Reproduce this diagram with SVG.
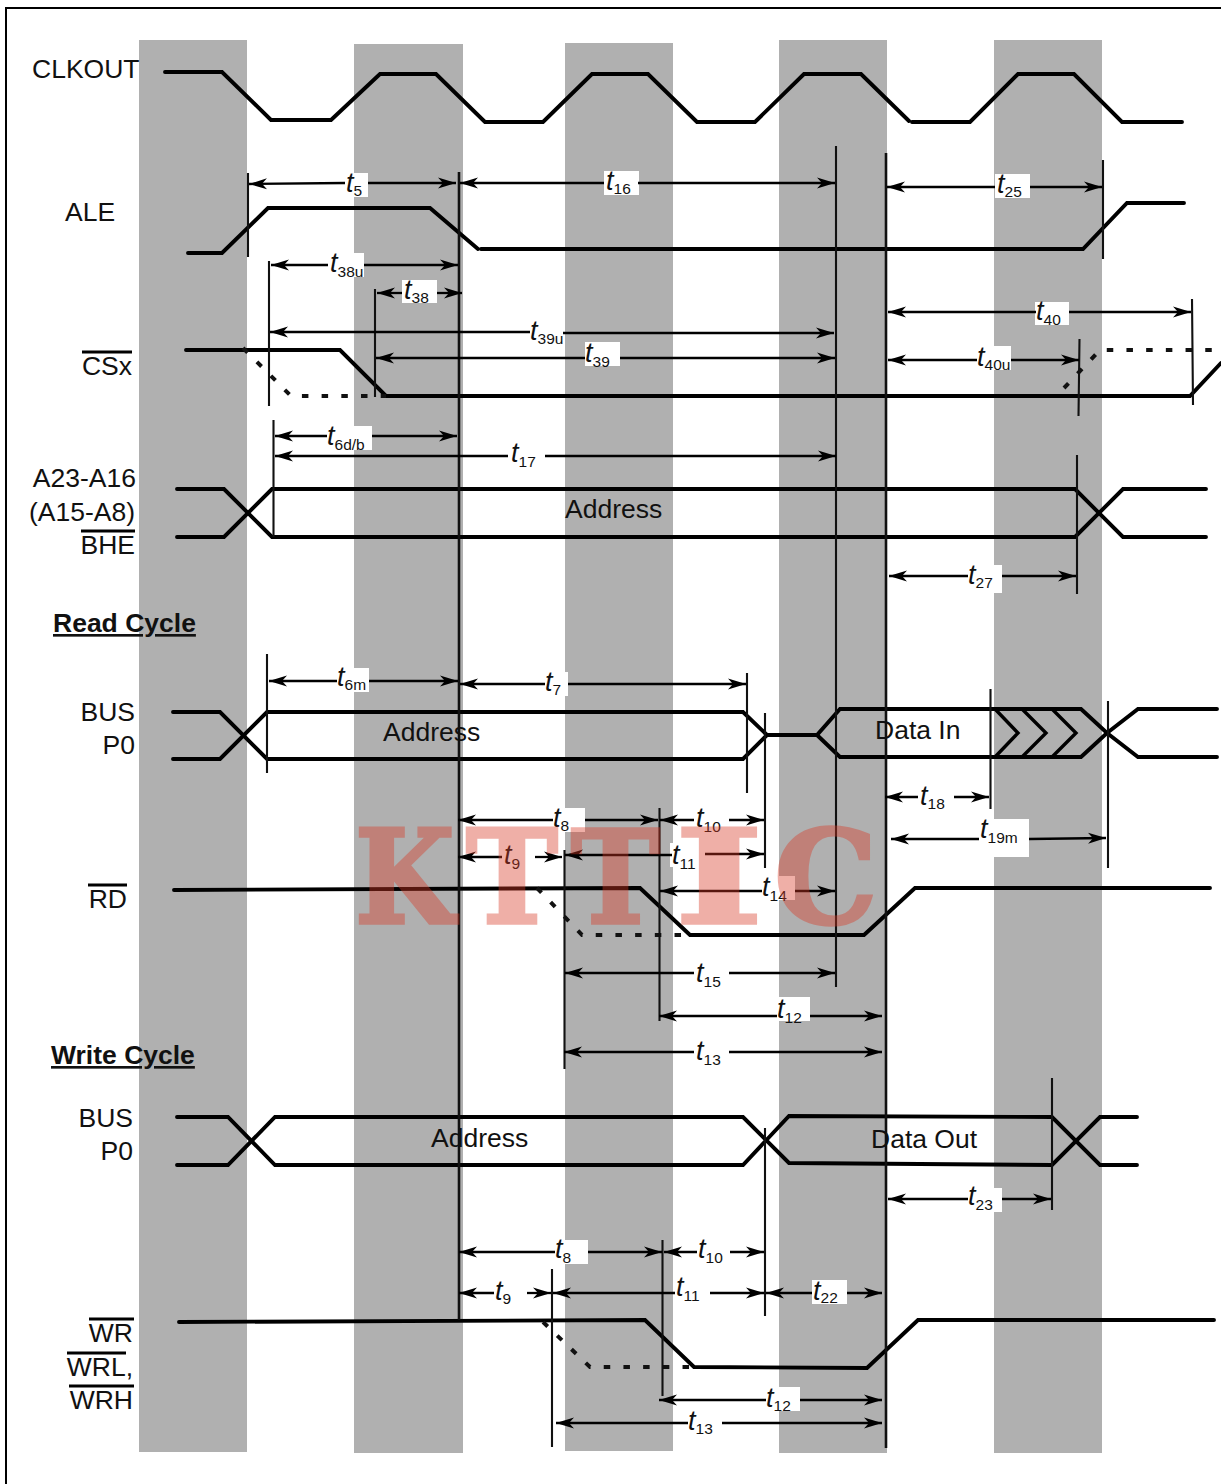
<svg xmlns="http://www.w3.org/2000/svg" width="1221" height="1484" viewBox="0 0 1221 1484">
<style>
text{font-family:"Liberation Sans",Arial,sans-serif;fill:#111}
.n{font-size:26.5px}
.h{font-size:26.5px;font-weight:bold;text-decoration:underline}
.e{text-anchor:end}
.t{font-size:27px;font-style:italic}
.t tspan{font-size:15.5px;font-style:normal}
.s{fill:none;stroke:#000;stroke-width:3.9;stroke-linejoin:miter;stroke-linecap:round}
.o{fill:none;stroke:#000;stroke-width:3}
.q{fill:none;stroke:#111;stroke-width:4;stroke-dasharray:6.5 13.2}
.v{fill:none;stroke:#111;stroke-width:2.1}
.d{fill:none;stroke:#000;stroke-width:2.3;marker-end:url(#a)}
.bar{fill:#b0b0b0}
.w{fill:#fff}
.m text{font-family:"DejaVu Serif",serif;font-size:130px;font-weight:bold;fill:#d93a26;stroke:#d93a26;stroke-width:3.5}
</style>
<defs>
<marker id="a" markerUnits="userSpaceOnUse" markerWidth="20" markerHeight="14" refX="18" refY="7" orient="auto"><path d="M0,1.5 L18,7 L0,12.5 L5,7z" fill="#000"/></marker>
</defs>
<rect width="1221" height="1484" fill="#fff"/>
<g id="bars">
<rect class="bar" x="139" y="40" width="108" height="1412"/>
<rect class="bar" x="354" y="44" width="109" height="1409"/>
<rect class="bar" x="565" y="43" width="108" height="1408"/>
<rect class="bar" x="779" y="40" width="108" height="1413"/>
<rect class="bar" x="994" y="40" width="108" height="1413"/>
</g>
<path id="frame" d="M1221,8 H6 V1484" fill="none" stroke="#000" stroke-width="2"/>
<g id="clkout"><text class="n" x="32" y="78">CLKOUT</text>
<path class="s" d="M165,72 H222 L271,120 H331 L380,74 H436 L485,122 H543 L592,74 H648 L697,122 H755 L804,74 H861 L909,121"/>
<path class="s" d="M912,122 H970 L1018,74 H1074 L1122,122 H1182"/></g>
<g id="ale"><text class="n" x="65" y="221">ALE</text>
<path class="s" d="M188,253 H222 L268,208 H430 L478,249"/>
<path class="s" d="M481,249 H1083 L1127,203 H1184"/></g>
<g id="csx"><text class="n e" x="132" y="375">CSx</text><path class="o" d="M82,352 H132"/>
<path class="s" d="M186,350 H340 L386,396 H1190 L1221,363"/>
<path class="q" d="M243,348 L291,396 H386"/>
<path class="q" d="M1064,388 L1100,350 H1221"/></g>
<g id="addr"><text class="n e" x="136" y="487">A23-A16</text><text class="n e" x="135" y="521">(A15-A8)</text><text class="n e" x="135" y="554">BHE</text><path class="o" d="M81,531 H135"/>
<path class="s" d="M177,489 H224 L272,537 H1075 L1123,489 H1206"/>
<path class="s" d="M177,537 H224 L272,489 H1075 L1123,537 H1206"/>
<text class="n" x="565" y="518">Address</text></g>
<text class="h" x="53" y="632">Read Cycle</text>
<g id="bus-read"><text class="n e" x="135" y="721">BUS</text><text class="n e" x="135" y="754">P0</text>
<path class="s" d="M173,712 H220 L267,759 H743 L767,735 H817 L840,709 H1081 L1107,733 L1138,757 H1217"/>
<path class="s" d="M173,759 H220 L267,712 H743 L767,735 M817,735 L840,757 H1081 L1107,733 L1138,709 H1217"/>
<path class="s" style="stroke-width:3.4" d="M995,709 L1018,733 L995,757 M1022,709 L1046,733 L1022,757 M1052,709 L1076,733 L1052,757"/>
<text class="n" x="383" y="741">Address</text><text class="n" x="875" y="739">Data In</text></g>
<g id="rd"><text class="n e" x="127" y="908">RD</text><path class="o" d="M88,885 H127"/>
<path class="s" d="M174,890 L640,888 L690,935 H864 L915,888 H1210"/>
<path class="q" d="M537,888 L582,935 H688"/></g>
<text class="h" x="51" y="1064">Write Cycle</text>
<g id="bus-write"><text class="n e" x="133" y="1127">BUS</text><text class="n e" x="133" y="1160">P0</text>
<path class="s" d="M177,1117 H228 L275,1165 H743 L789,1116 L1052,1117 L1100,1165 H1137"/>
<path class="s" d="M177,1165 H228 L275,1117 H743 L789,1163 L1052,1165 L1100,1117 H1137"/>
<text class="n" x="431" y="1147">Address</text><text class="n" x="871" y="1148">Data Out</text></g>
<g id="wr"><text class="n e" x="133" y="1342">WR</text><text class="n e" x="133" y="1376">WRL,</text><text class="n e" x="133" y="1409">WRH</text>
<path class="o" d="M89,1319 H134 M67,1353 H126 M69,1386 H134"/>
<path class="s" d="M179,1322 L645,1320 L694,1367 L867,1368 L918,1320 H1214"/>
<path class="q" d="M543,1322 L590,1367 H692"/></g>
<g id="connectors">
<path class="v" d="M248,173 V257 M269,261 V406 M375,289 V397 M273.5,420 V537 M836,146 V987 M1103,160 V259 M1192,299 L1193,405 M1079.5,339 L1078.5,416 M1077,455 V594 M267,654 V773 M747,673 V793 M765,713 V868 M990.5,689 V809 M1108,701 V868 M659.5,808 V1021 M564.5,850 V1069 M765,1128 V1316 M1052,1078 V1210 M662.5,1240 V1396 M552,1269 V1447"/>
<path class="v" style="stroke-width:2.6" d="M459,172 V1320 M886,153 V1448"/>
<rect class="w" x="343" y="173" width="25" height="24"/><rect class="w" x="328" y="253" width="36" height="24"/><rect class="w" x="402" y="280" width="35" height="23"/><rect class="w" x="327" y="426" width="45" height="24"/><rect class="w" x="604" y="171" width="35" height="24"/><rect class="w" x="995" y="174" width="35" height="24"/><rect class="w" x="1035" y="302" width="34" height="23"/><rect class="w" x="977" y="346" width="34" height="24"/><rect class="w" x="585" y="342" width="35" height="24"/><rect class="w" x="337" y="668" width="32" height="24"/><rect class="w" x="545" y="672" width="23" height="24"/><rect class="w" x="968" y="565" width="34" height="28"/><rect class="w" x="553" y="808" width="32" height="24"/><rect class="w" x="979" y="819" width="50" height="38"/><rect class="w" x="762" y="876" width="33" height="24"/><rect class="w" x="777" y="997" width="33" height="24"/><rect class="w" x="968" y="1188" width="34" height="24"/><rect class="w" x="555" y="1240" width="33" height="24"/><rect class="w" x="812" y="1280" width="35" height="24"/><rect class="w" x="766" y="1387" width="34" height="24"/><rect class="w" x="670" y="843" width="35" height="24"/>
<path class="d" d="M345,183 L249,184"/><path class="d" d="M368,183 H456"/>
<path class="d" d="M604,183 H460"/><path class="d" d="M638,183 H835"/>
<path class="d" d="M995,187 H887"/><path class="d" d="M1030,187 H1102"/>
<path class="d" d="M328,265 H271"/><path class="d" d="M364,265 H458"/>
<path class="d" d="M402,293 H377"/><path class="d" d="M437,293 H462"/>
<path class="d" d="M530,332 H270"/><path class="d" d="M563,333 H834"/>
<path class="d" d="M585,358 H376"/><path class="d" d="M620,358 H835"/>
<path class="d" d="M1036,312 H888"/><path class="d" d="M1069,312 H1191"/>
<path class="d" d="M977,360 H888"/><path class="d" d="M1011,360 H1079"/>
<path class="d" d="M327,436 H275"/><path class="d" d="M372,436 H457"/>
<path class="d" d="M508,456 H275"/><path class="d" d="M545,456 H836"/>
<path class="d" d="M968,576 H889"/><path class="d" d="M1002,576 H1076"/>
<path class="d" d="M337,681 H269"/><path class="d" d="M369,681 H458"/>
<path class="d" d="M545,684 H460"/><path class="d" d="M568,684 H746"/>
<path class="d" d="M553,820 H458"/><path class="d" d="M585,820 H658"/>
<path class="d" d="M694,820 H660"/><path class="d" d="M729,820 H764"/>
<path class="d" d="M502,857 H458"/><path class="d" d="M535,857 H562"/>
<path class="d" d="M672,855 H565"/><path class="d" d="M705,854 H764"/>
<path class="d" d="M762,891 H660"/><path class="d" d="M795,891 H835"/>
<path class="d" d="M694,973 H565"/><path class="d" d="M729,973 H835"/>
<path class="d" d="M777,1016 H659"/><path class="d" d="M810,1016 H882"/>
<path class="d" d="M694,1052 H564"/><path class="d" d="M729,1052 H882"/>
<path class="d" d="M918,797 H885"/><path class="d" d="M954,797 H989"/>
<path class="d" d="M979,839 H891"/><path class="d" d="M1029,839 L1106,838"/>
<path class="d" d="M968,1199 H888"/><path class="d" d="M1002,1199 H1051"/>
<path class="d" d="M555,1252 H459"/><path class="d" d="M588,1252 H662"/>
<path class="d" d="M697,1252 H664"/><path class="d" d="M730,1252 H764"/>
<path class="d" d="M494,1293 H459"/><path class="d" d="M527,1293 H551"/>
<path class="d" d="M675,1293 H553"/><path class="d" d="M710,1293 H764"/>
<path class="d" d="M812,1293 H766"/><path class="d" d="M847,1293 H882"/>
<path class="d" d="M766,1400 H659"/><path class="d" d="M800,1400 H882"/>
<path class="d" d="M688,1423 H556"/><path class="d" d="M722,1423 H882"/>
</g>
<g id="timing-labels">
<text class="t" x="346" y="192">t<tspan dy="4">5</tspan></text>
<text class="t" x="606" y="190">t<tspan dy="4">16</tspan></text>
<text class="t" x="997" y="193">t<tspan dy="4">25</tspan></text>
<text class="t" x="330" y="272">t<tspan dy="5">38u</tspan></text>
<text class="t" x="404" y="299">t<tspan dy="4">38</tspan></text>
<text class="t" x="530" y="340">t<tspan dy="4">39u</tspan></text>
<text class="t" x="585" y="362">t<tspan dy="5">39</tspan></text>
<text class="t" x="1036" y="320">t<tspan dy="5">40</tspan></text>
<text class="t" x="977" y="366">t<tspan dy="4">40u</tspan></text>
<text class="t" x="327" y="445">t<tspan dy="5">6d/b</tspan></text>
<text class="t" x="511" y="462">t<tspan dy="5">17</tspan></text>
<text class="t" x="968" y="584">t<tspan dy="4">27</tspan></text>
<text class="t" x="337" y="686">t<tspan dy="4">6m</tspan></text>
<text class="t" x="545" y="691">t<tspan dy="4">7</tspan></text>
<text class="t" x="553" y="827">t<tspan dy="4">8</tspan></text>
<text class="t" x="696" y="827">t<tspan dy="5">10</tspan></text>
<text class="t" x="504" y="864">t<tspan dy="5">9</tspan></text>
<text class="t" x="672" y="864">t<tspan dy="5">11</tspan></text>
<text class="t" x="762" y="896">t<tspan dy="5">14</tspan></text>
<text class="t" x="696" y="982">t<tspan dy="5">15</tspan></text>
<text class="t" x="777" y="1018">t<tspan dy="5">12</tspan></text>
<text class="t" x="696" y="1060">t<tspan dy="5">13</tspan></text>
<text class="t" x="920" y="805">t<tspan dy="4">18</tspan></text>
<text class="t" x="980" y="838">t<tspan dy="5">19m</tspan></text>
<text class="t" x="968" y="1205">t<tspan dy="5">23</tspan></text>
<text class="t" x="555" y="1258">t<tspan dy="5">8</tspan></text>
<text class="t" x="698" y="1258">t<tspan dy="5">10</tspan></text>
<text class="t" x="495" y="1300">t<tspan dy="4">9</tspan></text>
<text class="t" x="676" y="1296">t<tspan dy="5">11</tspan></text>
<text class="t" x="813" y="1300">t<tspan dy="3">22</tspan></text>
<text class="t" x="766" y="1407">t<tspan dy="4">12</tspan></text>
<text class="t" x="688" y="1430">t<tspan dy="4">13</tspan></text>
</g>
<g id="watermark" class="m" opacity=".4">
<text x="0" y="923" transform="translate(355 0) scale(.88 1)">K</text>
<text x="0" y="923" transform="translate(466 0) scale(.95 1)">T</text>
<text x="0" y="923" transform="translate(571 0) scale(.92 1)">T</text>
<text x="0" y="923" transform="translate(675 0) scale(1.45 1)">I</text>
<text x="0" y="923" transform="translate(774 0) scale(1 1)">C</text>
</g>
</svg>
